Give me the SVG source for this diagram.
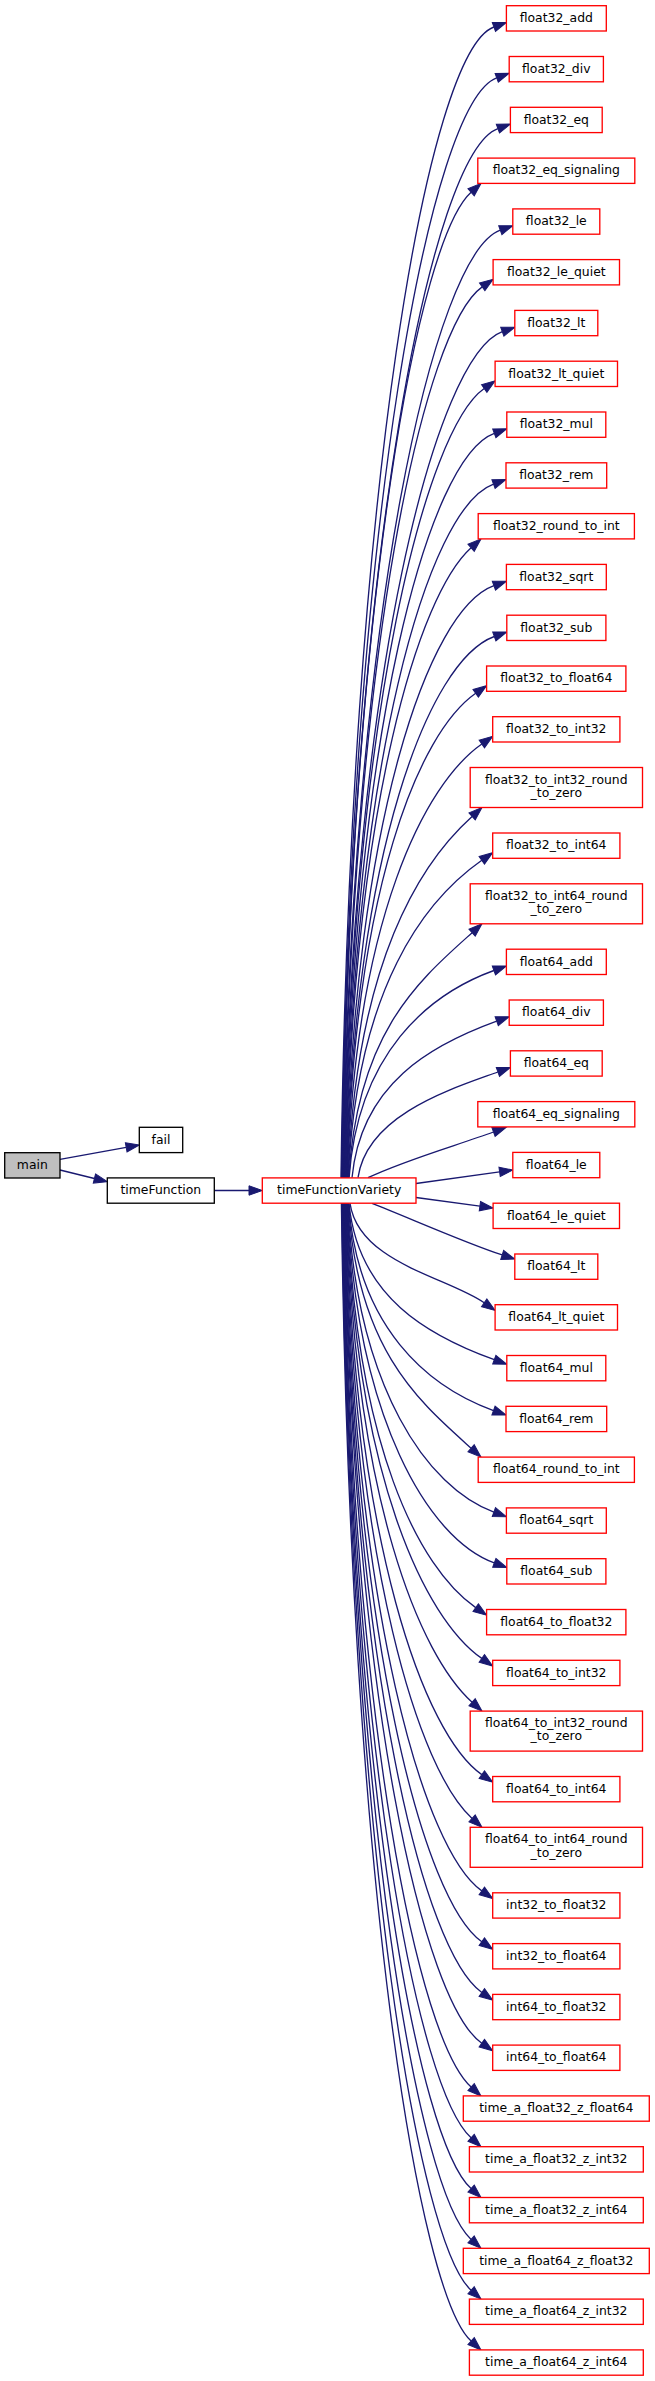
<svg xmlns="http://www.w3.org/2000/svg" width="655" height="2381" viewBox="0 0 655 2381">
<style>
.n rect{fill:#ffffff;stroke:#ff0000;stroke-width:1.33}
.k rect{fill:#ffffff;stroke:#000000;stroke-width:1.33}
.m rect{fill:#bfbfbf;stroke:#000000;stroke-width:1.33}
text{font-family:"DejaVu Sans","Noto Sans",sans-serif;font-size:12.4px;text-anchor:middle;fill:#000000}
.e path{fill:none;stroke:#191970;stroke-width:1.33;marker-end:url(#a)}
</style>
<defs>
<marker id="a" markerUnits="userSpaceOnUse" markerWidth="13.3" markerHeight="9.4" viewBox="0 0 13.3 9.4" refX="0" refY="4.7" orient="auto" overflow="visible">
<path d="M0,0 L13.3,4.7 L0,9.4 z" fill="#191970" stroke="#191970" stroke-width="1"/>
</marker>
</defs>
<rect x="0" y="0" width="655" height="2381" fill="#ffffff"/>
<g id="edges" class="e">
<path d="M60,1159.3 L126.2,1147.4"/>
<path d="M60,1170 L94.4,1178.5"/>
<path d="M214.3,1190.5 L249,1190.5"/>
<path d="M341,1177.7 C350,487.3 428.1,50.9 493.9,27"/>
<path d="M341.5,1177.7 C350.5,517.8 430.9,101.7 496.7,77.8"/>
<path d="M341.9,1177.7 C350.9,548.2 432.1,152.5 497.9,128.6"/>
<path d="M342.4,1177.7 C351.4,586.5 419.1,239.1 471.1,192.3"/>
<path d="M342.8,1177.7 C351.8,609.2 434.5,254.1 500.3,230.2"/>
<path d="M343.3,1177.7 C352.3,643.2 424.9,327.1 482.2,286.9"/>
<path d="M343.7,1177.7 C352.7,670.1 436.5,355.6 502.3,331.7"/>
<path d="M344.2,1177.7 C353.2,704.2 426.9,428.7 484.2,388.5"/>
<path d="M344.6,1177.7 C353.6,731.1 428.5,457.2 494.3,433.3"/>
<path d="M345.1,1177.7 C354.1,761.5 427.7,508 493.5,484.1"/>
<path d="M345.5,1177.7 C354.5,799.8 419.1,594.6 471.1,547.8"/>
<path d="M346,1177.7 C355,822.5 428.1,609.6 493.9,585.7"/>
<path d="M346.4,1177.7 C355.4,853 428.5,660.4 494.3,636.5"/>
<path d="M346.9,1177.7 C355.9,887.1 418.4,733.5 475.7,693.3"/>
<path d="M347.3,1177.7 C356.3,917.5 424.5,784.2 481.8,744"/>
<path d="M347.8,1177.7 C356.8,960.9 420.1,863.2 472.1,816.4"/>
<path d="M348.2,1177.7 C357.2,987.3 424.5,900.5 481.8,860.3"/>
<path d="M348.7,1177.7 C357.7,1030.7 420.1,979.5 472.1,932.7"/>
<path d="M349.1,1177.7 C358.1,1053.4 428.1,994.4 493.9,970.5"/>
<path d="M352,1177.7 C361,1083.8 430.9,1045.1 496.7,1021.2"/>
<path d="M358,1177.7 C367,1114.3 453.2,1088.3 497.9,1072"/>
<path d="M368,1177.7 C405,1160 455.9,1145.7 493.5,1132"/>
<path d="M416,1183.5 L499.6,1171.8"/>
<path d="M416,1197.5 L479.9,1206.2"/>
<path d="M372,1203.3 C405,1216 464.2,1242.5 502.2,1254.9"/>
<path d="M350,1203.3 C359,1263 447.5,1277.1 484.2,1302.8"/>
<path d="M349,1203.3 C358,1297.1 428.5,1335.8 494.3,1359.7"/>
<path d="M348.6,1203.3 C357.6,1327.6 427.7,1386.6 493.5,1410.5"/>
<path d="M348.2,1203.3 C357.2,1350.2 419.1,1401.4 471.1,1448.2"/>
<path d="M347.8,1203.3 C356.8,1388.6 428.1,1488.2 493.9,1512.1"/>
<path d="M347.4,1203.3 C356.4,1419.1 428.5,1539 494.3,1562.9"/>
<path d="M347,1203.3 C356,1445.9 418.4,1567.5 475.7,1607.6"/>
<path d="M346.6,1203.3 C355.6,1476.4 424.5,1618.3 481.8,1658.4"/>
<path d="M346.2,1203.3 C355.2,1502.6 420.1,1655.4 472.1,1702.2"/>
<path d="M345.8,1203.3 C354.8,1546.1 424.5,1734.5 481.8,1774.6"/>
<path d="M345.4,1203.3 C354.4,1572.4 420.1,1771.6 472.1,1818.4"/>
<path d="M345,1203.3 C354,1615.9 424.5,1850.8 481.8,1890.9"/>
<path d="M344.6,1203.3 C353.6,1646.3 424.5,1901.6 481.8,1941.7"/>
<path d="M344.2,1203.3 C353.2,1676.8 424.5,1952.4 481.8,1992.5"/>
<path d="M343.8,1203.3 C352.8,1707.2 424.5,2003.1 481.8,2043.2"/>
<path d="M343.4,1203.3 C352.4,1733.5 419.1,2040.2 471.1,2087"/>
<path d="M343,1203.3 C352,1764 419.1,2091 471.1,2137.8"/>
<path d="M342.6,1203.3 C351.6,1794.5 419.1,2141.8 471.1,2188.6"/>
<path d="M342.2,1203.3 C351.2,1825 419.1,2192.6 471.1,2239.4"/>
<path d="M341.8,1203.3 C350.8,1855.4 419.1,2243.4 471.1,2290.2"/>
<path d="M341.4,1203.3 C350.4,1885.9 419.1,2294.2 471.1,2341"/>
</g>
<g id="main" class="m"><rect x="4.7" y="1152.7" width="55.3" height="25.3"/><text x="32.3" y="1169">main</text></g>
<g id="fail" class="k"><rect x="139.3" y="1127.3" width="43.4" height="25.3"/><text x="161" y="1143.6">fail</text></g>
<g id="timeFunction" class="k"><rect x="107.3" y="1177.9" width="107" height="25.3"/><text x="160.8" y="1194.2">timeFunction</text></g>
<g id="timeFunctionVariety" class="n"><rect x="262.3" y="1177.9" width="153.7" height="25.3"/><text x="339.2" y="1194.2">timeFunctionVariety</text></g>
<g id="float32_add" class="n"><rect x="506.4" y="5.7" width="99.9" height="25.3"/><text x="556.3" y="22">float32_add</text></g>
<g id="float32_div" class="n"><rect x="509.2" y="56.5" width="94.2" height="25.3"/><text x="556.3" y="72.8">float32_div</text></g>
<g id="float32_eq" class="n"><rect x="510.4" y="107.3" width="91.8" height="25.3"/><text x="556.3" y="123.6">float32_eq</text></g>
<g id="float32_eq_signaling" class="n"><rect x="477.8" y="158.1" width="157" height="25.3"/><text x="556.3" y="174.4">float32_eq_signaling</text></g>
<g id="float32_le" class="n"><rect x="512.8" y="208.9" width="87" height="25.3"/><text x="556.3" y="225.2">float32_le</text></g>
<g id="float32_le_quiet" class="n"><rect x="493.1" y="259.6" width="126.4" height="25.3"/><text x="556.3" y="275.9">float32_le_quiet</text></g>
<g id="float32_lt" class="n"><rect x="514.8" y="310.4" width="83" height="25.3"/><text x="556.3" y="326.7">float32_lt</text></g>
<g id="float32_lt_quiet" class="n"><rect x="495.1" y="361.2" width="122.4" height="25.3"/><text x="556.3" y="377.5">float32_lt_quiet</text></g>
<g id="float32_mul" class="n"><rect x="506.8" y="412" width="99" height="25.3"/><text x="556.3" y="428.3">float32_mul</text></g>
<g id="float32_rem" class="n"><rect x="506" y="462.8" width="100.7" height="25.3"/><text x="556.3" y="479.1">float32_rem</text></g>
<g id="float32_round_to_int" class="n"><rect x="478.2" y="513.6" width="156.2" height="25.3"/><text x="556.3" y="529.9">float32_round_to_int</text></g>
<g id="float32_sqrt" class="n"><rect x="506.4" y="564.4" width="99.9" height="25.3"/><text x="556.3" y="580.7">float32_sqrt</text></g>
<g id="float32_sub" class="n"><rect x="506.8" y="615.2" width="99.1" height="25.3"/><text x="556.3" y="631.5">float32_sub</text></g>
<g id="float32_to_float64" class="n"><rect x="486.6" y="666" width="139.3" height="25.3"/><text x="556.3" y="682.3">float32_to_float64</text></g>
<g id="float32_to_int32" class="n"><rect x="492.7" y="716.7" width="127.2" height="25.3"/><text x="556.3" y="733">float32_to_int32</text></g>
<g id="float32_to_int32_round_to_zero" class="n"><rect x="470.2" y="767.5" width="172.3" height="40"/><text x="556.3" y="783.5">float32_to_int32_round</text><text x="556.3" y="796.8">_to_zero</text></g>
<g id="float32_to_int64" class="n"><rect x="492.7" y="833" width="127.2" height="25.3"/><text x="556.3" y="849.3">float32_to_int64</text></g>
<g id="float32_to_int64_round_to_zero" class="n"><rect x="470.2" y="883.8" width="172.3" height="40"/><text x="556.3" y="899.8">float32_to_int64_round</text><text x="556.3" y="913.1">_to_zero</text></g>
<g id="float64_add" class="n"><rect x="506.4" y="949.2" width="99.9" height="25.3"/><text x="556.3" y="965.5">float64_add</text></g>
<g id="float64_div" class="n"><rect x="509.2" y="1000" width="94.2" height="25.3"/><text x="556.3" y="1016.3">float64_div</text></g>
<g id="float64_eq" class="n"><rect x="510.4" y="1050.8" width="91.8" height="25.3"/><text x="556.3" y="1067.1">float64_eq</text></g>
<g id="float64_eq_signaling" class="n"><rect x="477.8" y="1101.6" width="157" height="25.3"/><text x="556.3" y="1117.9">float64_eq_signaling</text></g>
<g id="float64_le" class="n"><rect x="512.8" y="1152.4" width="87" height="25.3"/><text x="556.3" y="1168.7">float64_le</text></g>
<g id="float64_le_quiet" class="n"><rect x="493.1" y="1203.2" width="126.4" height="25.3"/><text x="556.3" y="1219.5">float64_le_quiet</text></g>
<g id="float64_lt" class="n"><rect x="514.8" y="1254" width="83" height="25.3"/><text x="556.3" y="1270.3">float64_lt</text></g>
<g id="float64_lt_quiet" class="n"><rect x="495.1" y="1304.7" width="122.4" height="25.3"/><text x="556.3" y="1321">float64_lt_quiet</text></g>
<g id="float64_mul" class="n"><rect x="506.8" y="1355.5" width="99" height="25.3"/><text x="556.3" y="1371.8">float64_mul</text></g>
<g id="float64_rem" class="n"><rect x="506" y="1406.3" width="100.7" height="25.3"/><text x="556.3" y="1422.6">float64_rem</text></g>
<g id="float64_round_to_int" class="n"><rect x="478.2" y="1457.1" width="156.2" height="25.3"/><text x="556.3" y="1473.4">float64_round_to_int</text></g>
<g id="float64_sqrt" class="n"><rect x="506.4" y="1507.9" width="99.9" height="25.3"/><text x="556.3" y="1524.2">float64_sqrt</text></g>
<g id="float64_sub" class="n"><rect x="506.8" y="1558.7" width="99.1" height="25.3"/><text x="556.3" y="1575">float64_sub</text></g>
<g id="float64_to_float32" class="n"><rect x="486.6" y="1609.5" width="139.3" height="25.3"/><text x="556.3" y="1625.8">float64_to_float32</text></g>
<g id="float64_to_int32" class="n"><rect x="492.7" y="1660.3" width="127.2" height="25.3"/><text x="556.3" y="1676.6">float64_to_int32</text></g>
<g id="float64_to_int32_round_to_zero" class="n"><rect x="470.2" y="1711.1" width="172.3" height="40"/><text x="556.3" y="1727.1">float64_to_int32_round</text><text x="556.3" y="1740.4">_to_zero</text></g>
<g id="float64_to_int64" class="n"><rect x="492.7" y="1776.5" width="127.2" height="25.3"/><text x="556.3" y="1792.8">float64_to_int64</text></g>
<g id="float64_to_int64_round_to_zero" class="n"><rect x="470.2" y="1827.3" width="172.3" height="40"/><text x="556.3" y="1843.3">float64_to_int64_round</text><text x="556.3" y="1856.6">_to_zero</text></g>
<g id="int32_to_float32" class="n"><rect x="492.7" y="1892.8" width="127.2" height="25.3"/><text x="556.3" y="1909.1">int32_to_float32</text></g>
<g id="int32_to_float64" class="n"><rect x="492.7" y="1943.6" width="127.2" height="25.3"/><text x="556.3" y="1959.9">int32_to_float64</text></g>
<g id="int64_to_float32" class="n"><rect x="492.7" y="1994.4" width="127.2" height="25.3"/><text x="556.3" y="2010.7">int64_to_float32</text></g>
<g id="int64_to_float64" class="n"><rect x="492.7" y="2045.1" width="127.2" height="25.3"/><text x="556.3" y="2061.4">int64_to_float64</text></g>
<g id="time_a_float32_z_float64" class="n"><rect x="463.3" y="2095.9" width="186" height="25.3"/><text x="556.3" y="2112.2">time_a_float32_z_float64</text></g>
<g id="time_a_float32_z_int32" class="n"><rect x="469.4" y="2146.7" width="173.9" height="25.3"/><text x="556.3" y="2163">time_a_float32_z_int32</text></g>
<g id="time_a_float32_z_int64" class="n"><rect x="469.4" y="2197.5" width="173.9" height="25.3"/><text x="556.3" y="2213.8">time_a_float32_z_int64</text></g>
<g id="time_a_float64_z_float32" class="n"><rect x="463.3" y="2248.3" width="186" height="25.3"/><text x="556.3" y="2264.6">time_a_float64_z_float32</text></g>
<g id="time_a_float64_z_int32" class="n"><rect x="469.4" y="2299.1" width="173.9" height="25.3"/><text x="556.3" y="2315.4">time_a_float64_z_int32</text></g>
<g id="time_a_float64_z_int64" class="n"><rect x="469.4" y="2349.9" width="173.9" height="25.3"/><text x="556.3" y="2366.2">time_a_float64_z_int64</text></g>
</svg>
